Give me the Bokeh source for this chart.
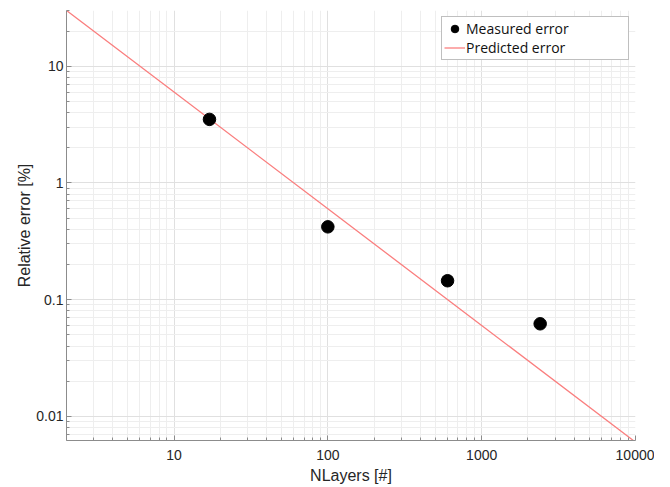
from bokeh.plotting import figure
from bokeh.models import FixedTicker, CustomJSTickFormatter, Range1d
from bokeh.embed import file_html
from bokeh.resources import INLINE

# ---- data ----
n_measured = [17, 100, 600, 2400]
err_measured = [3.5, 0.42, 0.145, 0.062]

n_predicted = [2, 10, 100, 1000, 10000]
err_predicted = [30, 6, 0.6, 0.06, 0.006]

x_major = [10, 100, 1000, 10000]
y_major = [0.01, 0.1, 1, 10]
x_minor = [k * 10 ** d for d in range(0, 4) for k in range(2, 10)]
y_minor = [k * 10.0 ** d for d in range(-3, 2) for k in range(2, 10)]

p = figure(width=654, height=486, x_axis_type="log", y_axis_type="log",
           x_range=Range1d(2, 10000), y_range=Range1d(0.0062, 30),
           output_backend="svg", toolbar_location=None,
           min_border_left=66, min_border_right=19,
           min_border_top=10, min_border_bottom=46)

p.outline_line_color = None
p.background_fill_color = "white"
p.border_fill_color = "white"

fmt = CustomJSTickFormatter(code="return tick.toString();")
p.xaxis.ticker = FixedTicker(ticks=x_major, minor_ticks=x_minor)
p.yaxis.ticker = FixedTicker(ticks=y_major, minor_ticks=y_minor)
p.xaxis.formatter = fmt
p.yaxis.formatter = fmt

for ax in (p.xaxis, p.yaxis):
    ax.axis_line_color = "#8c8c8c"
    ax.major_tick_line_color = "#8c8c8c"
    ax.minor_tick_line_color = "#8c8c8c"
    ax.major_tick_in = 5
    ax.major_tick_out = 0
    ax.minor_tick_in = 3
    ax.minor_tick_out = 0
    ax.major_label_text_font = "Liberation Sans"
    ax.major_label_text_font_size = "14px"
    ax.major_label_text_color = "#262626"
    ax.axis_label_text_font = "Liberation Sans"
    ax.axis_label_text_font_size = "16px"
    ax.axis_label_text_font_style = "normal"
    ax.axis_label_text_color = "#262626"

p.xaxis.axis_label = "NLayers [#]"
p.yaxis.axis_label = "Relative error [%]"
p.xaxis.major_label_standoff = 9
p.xaxis.axis_label_standoff = 4
p.yaxis.major_label_standoff = 3
p.yaxis.axis_label_standoff = 0

for g in (p.xgrid, p.ygrid):
    g.grid_line_color = "#e0e0e0"
    g.minor_grid_line_color = "#eeeeee"
    g.grid_line_width = 1
    g.minor_grid_line_width = 1

p.line(n_predicted, err_predicted, line_color="#fa7f7f", line_width=1.3,
       legend_label="Predicted error")
p.scatter(n_measured, err_measured, size=12.5, fill_color="black",
          line_color="black", legend_label="Measured error")

# order legend items: Measured first
items = list(p.legend[0].items)
p.legend[0].items = [items[1], items[0]]

lg = p.legend[0]
lg.location = "top_right"
lg.margin = 6
lg.padding = 2
lg.spacing = 0
lg.glyph_width = 21
lg.glyph_height = 19
lg.label_height = 19
lg.label_width = 160
lg.label_standoff = 1
lg.label_text_font = "Open Sans"
lg.label_text_font_size = "14px"
lg.label_text_color = "#111111"
lg.border_line_color = "#808080"
lg.border_line_width = 1
lg.background_fill_color = "white"
lg.background_fill_alpha = 1.0

open("out.html", "w").write(file_html(p, INLINE))
